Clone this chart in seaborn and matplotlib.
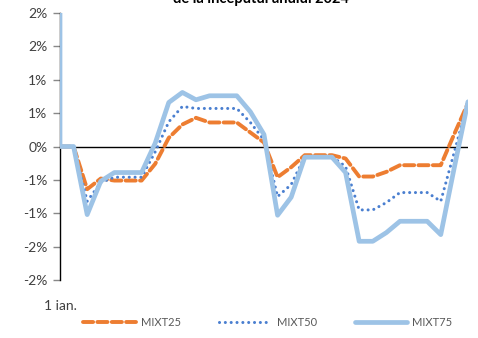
import numpy as np
import pandas as pd
import matplotlib
matplotlib.use('Agg')
import matplotlib.pyplot as plt
import seaborn as sns

# x positions (the first day appears twice in the source series)
zile = [0, 0, 1, 2, 3, 4, 5, 6, 7, 8, 9, 10, 11, 12, 13, 14, 15, 16, 17, 18, 19,
        20, 21, 22, 23, 24, 25, 26, 27, 28, 29, 30]

mixt25 = [0.00, 0.00, 0.00, -0.64, -0.48, -0.51, -0.51, -0.51, -0.26, 0.13, 0.33,
          0.43, 0.36, 0.36, 0.36, 0.21, 0.06, -0.46, -0.31, -0.13, -0.13, -0.13,
          -0.18, -0.45, -0.45, -0.38, -0.28, -0.28, -0.28, -0.28, 0.19, 0.65]
mixt50 = [0.00, 0.00, 0.00, -0.82, -0.54, -0.46, -0.46, -0.46, -0.08, 0.37, 0.60,
          0.57, 0.57, 0.57, 0.57, 0.36, 0.10, -0.75, -0.57, -0.15, -0.15, -0.15,
          -0.30, -0.95, -0.95, -0.84, -0.69, -0.69, -0.69, -0.82, -0.08, 0.67]
mixt75 = [2.00, 0.00, 0.00, -1.02, -0.52, -0.39, -0.39, -0.39, 0.05, 0.66, 0.81,
          0.70, 0.76, 0.76, 0.76, 0.52, 0.18, -1.03, -0.76, -0.16, -0.16, -0.16,
          -0.39, -1.42, -1.42, -1.29, -1.12, -1.12, -1.12, -1.32, -0.31, 0.67]

yticks = [-2.0, -1.5, -1.0, -0.5, 0.0, 0.5, 1.0, 1.5, 2.0]
ytick_labels = ['-2%', '-2%', '-1%', '-1%', '0%', '1%', '1%', '2%', '2%']
xtick_label = '1 ian.'
titlu = 'de la începutul anului 2024'

sns.set_style('white')
plt.rcParams['font.family'] = ['Lato', 'DejaVu Sans']

fig = plt.figure(figsize=(4.78, 3.38), dpi=100)
ax = fig.add_axes([0.1255, 0.1716, 0.979 - 0.1255, 0.9615 - 0.1716])

df = pd.DataFrame({'zi': zile, 'MIXT25': mixt25, 'MIXT50': mixt50, 'MIXT75': mixt75})

ax.axhline(0, color='black', lw=1.0, zorder=1)

sns.lineplot(data=df, x='zi', y='MIXT25', ax=ax, estimator=None, sort=False,
             color='#ED7D31', lw=2.8, label='MIXT25', zorder=3)
sns.lineplot(data=df, x='zi', y='MIXT50', ax=ax, estimator=None, sort=False,
             color='#4A7FD0', lw=2.2, label='MIXT50', zorder=4)
sns.lineplot(data=df, x='zi', y='MIXT75', ax=ax, estimator=None, sort=False,
             color='#9DC3E6', lw=3.4, label='MIXT75', zorder=5)

lines = ax.get_lines()
lines[1].set_dashes((2.6, 1.1))
lines[1].set_dash_capstyle('round')
lines[2].set_dashes((0.01, 1.9))
lines[2].set_dash_capstyle('round')

ax.set_xlim(0, 30)
ax.set_ylim(-2.0, 2.0)
ax.set_yticks(yticks)
ax.set_yticklabels(ytick_labels)
ax.set_xticks([0])
ax.set_xticklabels([xtick_label])
ax.set_xlabel('')
ax.set_ylabel('')

for s in ['top', 'right', 'bottom']:
    ax.spines[s].set_visible(False)
ax.spines['left'].set_color('black')
ax.spines['left'].set_linewidth(1.0)
ax.tick_params(axis='y', which='both', left=True, length=5, width=1, color='#888888',
               labelsize=10, labelcolor='#404040', pad=4)
ax.tick_params(axis='x', bottom=False, labelsize=10, labelcolor='#404040', pad=11)

leg = ax.legend(loc='upper center', bbox_to_anchor=(0.51, -0.1), ncol=3, frameon=False,
                fontsize=8, handlelength=4.7, columnspacing=3.4, handletextpad=0.5)
for t in leg.get_texts():
    t.set_color('#595959')

fig.text(0.545, 1.003, titlu, ha='center', va='center', fontsize=10.5,
         fontweight='bold', color='black')

fig.savefig('out.png', dpi=100)
